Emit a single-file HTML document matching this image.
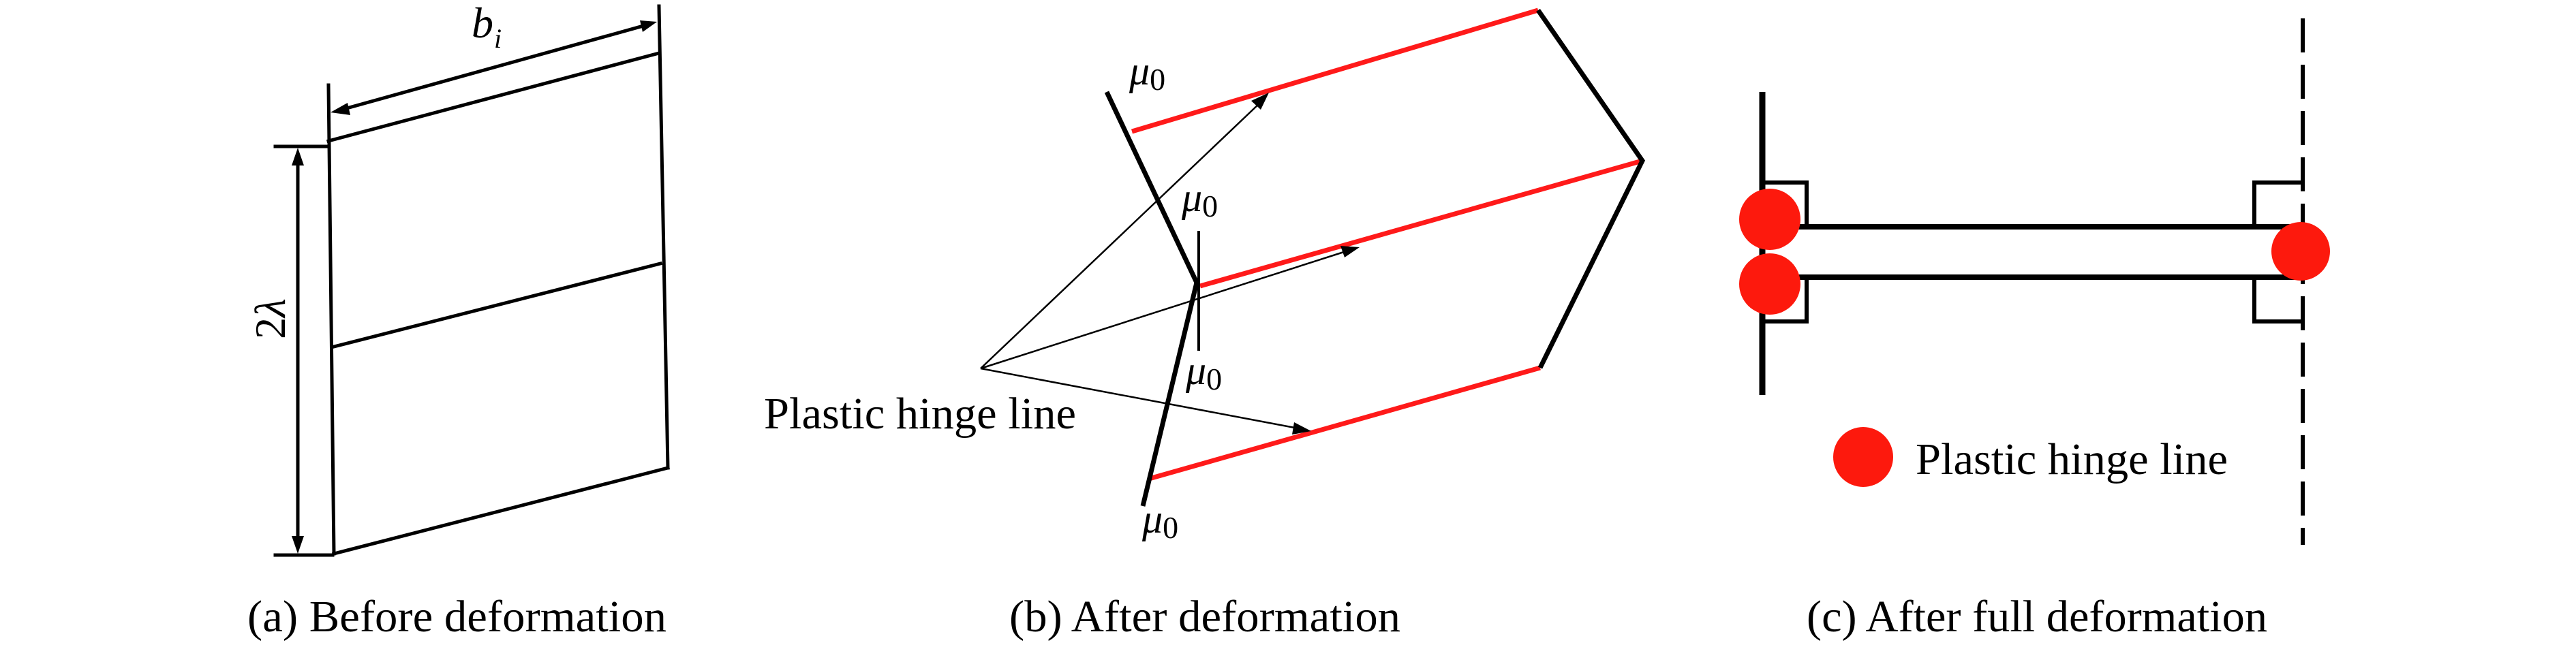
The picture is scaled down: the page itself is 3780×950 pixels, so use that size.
<!DOCTYPE html>
<html><head><meta charset="utf-8"><style>
html,body{margin:0;padding:0;background:#fff;}
svg{display:block;}
text{font-family:"Liberation Serif",serif;fill:#000;}
</style></head><body>
<svg width="3780" height="950" viewBox="0 0 3780 950" xmlns="http://www.w3.org/2000/svg">
<rect width="3780" height="950" fill="#fff"/>

<!-- Panel a -->
<g stroke="#000" stroke-width="5" fill="none" stroke-linecap="square">
<line x1="482" y1="125" x2="490" y2="813"/>
<line x1="967" y1="9" x2="980" y2="687"/>
<line x1="482" y1="207" x2="967" y2="78"/>
<line x1="490" y1="509" x2="969" y2="387"/>
<line x1="490" y1="813" x2="980" y2="687"/>
<line x1="404" y1="215" x2="482" y2="215"/>
<line x1="404" y1="815" x2="488" y2="815"/>
<line x1="437" y1="240" x2="437" y2="790"/>
<line x1="505" y1="160" x2="944" y2="38"/>
</g>
<g fill="#000">
<polygon points="437,217 428,243 446,243"/>
<polygon points="437,813 428,787 446,787"/>
<polygon points="485,165 510,151 514,169"/>
<polygon points="964,32 939,30 943,47"/>
</g>
<text x="692" y="55" font-size="64" font-style="italic">b</text>
<text x="725" y="70" font-size="40" font-style="italic">i</text>
<text transform="translate(418,468) rotate(-90)" font-size="64" text-anchor="middle">2<tspan font-style="italic">λ</tspan></text>
<text x="363" y="927" font-size="66" textLength="615" lengthAdjust="spacingAndGlyphs">(a) Before deformation</text>

<!-- Panel b -->
<g stroke="#ff1a1a" stroke-width="7" stroke-linecap="butt">
<line x1="1661" y1="193" x2="2257" y2="15"/>
<line x1="1761" y1="420" x2="2410" y2="236"/>
<line x1="1686" y1="703" x2="2260" y2="540"/>
</g>
<g stroke="#000" stroke-width="7" fill="none" stroke-linejoin="miter">
<polyline points="2257,15 2410,236 2260,540"/>
<polyline points="1624,135 1756,415 1677,743"/>
</g>
<line x1="1759" y1="339" x2="1759" y2="515" stroke="#000" stroke-width="4"/>
<g stroke="#000" stroke-width="2.5">
<line x1="1439" y1="541" x2="1850" y2="150"/>
<line x1="1439" y1="541" x2="1975" y2="369"/>
<line x1="1439" y1="541" x2="1905" y2="629"/>
</g>
<g fill="#000">
<polygon points="1862,136 1836,148 1850,161"/>
<polygon points="1995,363 1967,361 1973,378"/>
<polygon points="1924,633 1899,620 1896,638"/>
</g>
<text x="1657" y="124" font-size="60" font-style="italic">μ<tspan font-style="normal" font-size="46" dy="8">0</tspan></text>
<text x="1734" y="310" font-size="60" font-style="italic">μ<tspan font-style="normal" font-size="46" dy="8">0</tspan></text>
<text x="1740" y="564" font-size="60" font-style="italic">μ<tspan font-style="normal" font-size="46" dy="8">0</tspan></text>
<text x="1676" y="782" font-size="60" font-style="italic">μ<tspan font-style="normal" font-size="46" dy="8">0</tspan></text>
<text x="1121" y="629" font-size="66" textLength="458" lengthAdjust="spacingAndGlyphs">Plastic hinge line</text>
<text x="1481" y="927" font-size="66" textLength="574" lengthAdjust="spacingAndGlyphs">(b) After deformation</text>

<!-- Panel c -->
<line x1="2586" y1="135" x2="2586" y2="580" stroke="#000" stroke-width="9"/>
<line x1="3379" y1="27" x2="3379" y2="800" stroke="#000" stroke-width="6" stroke-dasharray="50 18"/>
<g stroke="#000" stroke-width="6" fill="none">
<polyline points="2586,268 2651,268 2651,333"/>
<polyline points="2651,407 2651,472 2586,472"/>
<polyline points="3379,268 3308,268 3308,333"/>
<polyline points="3308,407 3308,472 3379,472"/>
</g>
<g stroke="#000" stroke-width="8">
<line x1="2620" y1="333" x2="3376" y2="333"/>
<line x1="2620" y1="407" x2="3376" y2="407"/>
</g>
<g fill="#fd190d">
<circle cx="2597" cy="322" r="45"/>
<circle cx="2597" cy="417" r="45"/>
<circle cx="3376" cy="369" r="43"/>
<circle cx="2734" cy="671" r="44"/>
</g>
<text x="2811" y="696" font-size="66" textLength="458" lengthAdjust="spacingAndGlyphs">Plastic hinge line</text>
<text x="2651" y="927" font-size="66" textLength="676" lengthAdjust="spacingAndGlyphs">(c) After full deformation</text>
</svg>
</body></html>
